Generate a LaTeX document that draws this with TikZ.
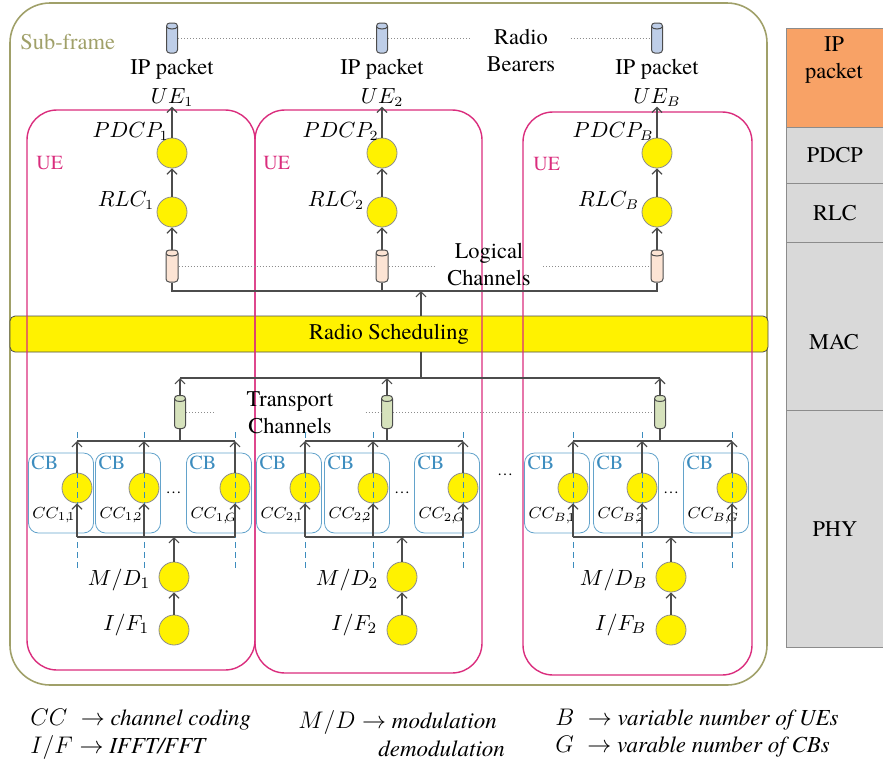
\documentclass[tikz,border=0pt]{standalone}
\usepackage{fontspec}
\setmainfont{texgyretermes}[Extension=.otf, UprightFont=*-regular, ItalicFont=*-italic,
    BoldFont=*-bold, BoldItalicFont=*-bolditalic]
\usepackage{tikz}
\usetikzlibrary{positioning, arrows.meta, calc, shapes.geometric}

\definecolor{frameol}{RGB}{160,160,105}
\definecolor{uepink}{RGB}{218,45,125}
\definecolor{cbblue}{RGB}{60,140,190}
\definecolor{bearfill}{RGB}{190,206,232}
\definecolor{logfill}{RGB}{252,228,212}
\definecolor{trfill}{RGB}{214,226,188}
\definecolor{ipfill}{RGB}{248,162,102}
\definecolor{layfill}{RGB}{217,217,217}

\begin{document}
\begin{tikzpicture}[
    x=0.5pt, y=-0.5pt,
    txt/.style={font=\fontsize{11.2}{13.5}\selectfont, align=center, inner sep=0pt},
    mlab/.style={font=\fontsize{10.5}{12}\selectfont, inner sep=0pt},
    small/.style={font=\fontsize{8}{10}\selectfont, inner sep=0pt},
    proc/.style={circle, draw=black!45, fill=yellow, minimum size=15pt, inner sep=0pt},
    chan/.style={rectangle, rounded corners=1.6pt, draw=black!70, line width=0.5pt,
                 minimum width=5.5pt, inner sep=0pt,
                 path picture={\draw[black!70, line width=0.5pt]
                   ([yshift=-1.8pt]path picture bounding box.north west) .. controls +(0.3pt,-1.6pt)
                   and +(-0.3pt,-1.6pt) .. ([yshift=-1.8pt]path picture bounding box.north east);}},
    bearer/.style={chan, fill=bearfill, minimum height=15pt},
    logch/.style={chan, fill=logfill, minimum width=6pt, minimum height=16pt},
    trch/.style={chan, fill=trfill, minimum height=16.5pt},
    cbbox/.style={draw=cbblue!80, rounded corners=5pt, minimum width=32.5pt, minimum height=40pt, inner sep=0pt},
    uebox/.style={draw=uepink, line width=0.7pt, rounded corners=15pt},
    lay/.style={draw=black!45, fill=layfill, minimum width=48.5pt, anchor=north west, inner sep=0pt,
                font=\fontsize{11.2}{13.5}\selectfont},
    legend/.style={font=\fontsize{11.5}{13}\selectfont, anchor=west, inner sep=0pt},
    arr/.style={-{Straight Barb[length=2.5pt, width=5pt]}, draw=black!70, line width=0.6pt},
    bus/.style={draw=black!70, line width=0.6pt},
    dotln/.style={densely dotted, draw=black!45, line width=0.5pt},
    cbdash/.style={dashed, draw=cbblue, line width=0.5pt, dash pattern=on 3pt off 2pt},
]
\useasboundingbox (0,0) rectangle (883,766);

% sub-frame and scheduling bar
\draw[frameol, line width=0.8pt, rounded corners=20pt] (10,3) rectangle (767,685);
\node[txt, anchor=west, text=frameol] (subf) at (20,42) {Sub-frame};
\node[draw=black!70, fill=yellow, rounded corners=2.5pt, minimum width=379pt, minimum height=18pt,
      font=\fontsize{11.2}{13.5}\selectfont] (sched) at (389,334) {Radio Scheduling};

% UE boxes
\draw[uebox] (27,110) rectangle (255,670);
\draw[uebox] (255,110) rectangle (482,673);
\draw[uebox] (523,112) rectangle (752,675);
\node[txt, text=uepink, font=\fontsize{10}{12}\selectfont, anchor=west] (uel1) at (36,163) {UE};
\node[txt, text=uepink, font=\fontsize{10}{12}\selectfont, anchor=west] (uel2) at (263,163) {UE};
\node[txt, text=uepink, font=\fontsize{10}{12}\selectfont, anchor=west] (uelB) at (533,164) {UE};

% upper stack per UE
\foreach \ui/\xc in {1/172, 2/382, B/657} {
    \node[bearer] (rb\ui) at (\xc,38) {};
    \node[txt, anchor=base] (ip\ui) at (\xc,74) {IP packet};
    \node[mlab, anchor=base] (ue\ui) at (\xc,103) {$UE_{\ui}$};
    \node[proc] (pdcp\ui) at (\xc,153) {};
    \node[proc] (rlc\ui) at (\xc,212) {};
    \node[logch] (lc\ui) at (\xc,266) {};
    \node[mlab, anchor=base east] (pdcpl\ui) at ($(pdcp\ui.north)+(-3,0)$) {$PDCP_{\ui}$};
    \node[mlab, anchor=base east] (rlcl\ui) at ($(rlc\ui.west)+(-2,-6)$) {$RLC_{\ui}$};
    \draw[arr] (pdcp\ui) -- (ue\ui);
    \draw[arr] (rlc\ui) -- (pdcp\ui);
    \draw[arr] (lc\ui) -- (rlc\ui);
}

\node[txt, inner xsep=7.5pt] (rbtxt) at (521,50) {Radio\\Bearers};
\node[txt, inner xsep=6pt] (lctxt) at (489,265) {Logical\\Channels};
\draw[dotln] (rb1) -- (rb2);
\draw[dotln] (rb2) -- (rbtxt.west |- rb2);
\draw[dotln] (rbtxt.east |- rbB) -- (rbB);
\draw[dotln] (lc1) -- (lc2);
\draw[dotln] (lc2) -- (lctxt.west |- lc2);
\draw[dotln] (lctxt.east |- lcB) -- (lcB);

% logical channels into the scheduler
\coordinate (lj) at (421,291);
\draw[bus] (lc1) |- (lj) -| (lcB);
\draw[bus] (lc2) -- (lc2 |- lj);
\draw[arr] (sched.north -| lj) -- (lj);

% transport channels
\coordinate (tj) at (421,378);
\node[trch] (tc1) at (180,412) {};
\node[trch] (tc2) at (387,412) {};
\node[trch] (tcB) at (660,412) {};
\node[txt, inner xsep=16pt] (tctxt) at (290,413) {Transport\\Channels};
\draw[dotln] (tc1) -- (tctxt.west |- tc1);
\draw[dotln] (tctxt.east |- tc2) -- (tc2);
\draw[dotln] (tc2) -- (tcB);
\draw[bus] (sched.south -| tj) -- (tj);
\draw[bus] (tc1 |- tj) -- (tcB |- tj);
\draw[arr] (tc1) -- (tc1 |- tj);
\draw[arr] (tc2) -- (tc2 |- tj);
\draw[arr] (tcB) -- (tcB |- tj);

% code blocks, modulation and IFFT per UE
\coordinate (tb) at (0,441);
\coordinate (bb) at (0,537);
\coordinate (dt) at (0,432);
\coordinate (db) at (0,570);
\foreach \ui/\xa/\xb/\xg/\xm in {1/77/144/235/174, 2/305/373/463/402, B/573/642/732/671} {
    \foreach \k/\cx in {1/\xa, 2/\xb, G/\xg} {
        \node[cbbox] (cb\ui\k) at (\cx-16,493) {};
        \node[anchor=north west, inner sep=1.5pt, text=cbblue, font=\fontsize{10}{12}\selectfont]
            (cbl\ui\k) at (cb\ui\k.north west) {CB};
        \node[proc] (cc\ui\k) at (\cx,488) {};
        \node[small, anchor=base west] (ccl\ui\k) at ($(cb\ui\k.south west)+(4,-15)$) {$CC_{\ui,\!\k}$};
        \draw[cbdash] (cc\ui\k |- dt) -- (cc\ui\k |- db);
        \draw[arr] (cc\ui\k) -- (cc\ui\k |- tb);
        \draw[arr] (cc\ui\k |- bb) -- (cc\ui\k);
    }
    \node[small] (cbdots\ui) at ($(cb\ui2.east)!0.5!(cb\ui G.west)$) {\dots};
    \draw[bus] (cc\ui1 |- tb) -- (cc\ui G |- tb);
    \draw[bus] (cc\ui1 |- bb) -- (cc\ui G |- bb);
    \draw[bus] (tc\ui) -- (tc\ui |- tb);
    \node[proc] (md\ui) at (\xm,577) {};
    \node[proc] (if\ui) at (\xm,630) {};
    \node[mlab, font=\fontsize{11}{12}\selectfont, anchor=east] (mdl\ui) at ($(md\ui.west)+(-8,3)$) {$M/D_{\ui}$};
    \node[mlab, font=\fontsize{11}{12}\selectfont, anchor=east] (ifl\ui) at ($(if\ui.west)+(-9,-5)$) {$I/F_{\ui}$};
    \draw[arr] (md\ui) -- (md\ui |- bb);
    \draw[arr] (if\ui) -- (md\ui);
}
\node[small] (uedots) at (505,475) {\dots};

% protocol layers
\node[lay, fill=ipfill, minimum height=49.5pt] (lyip) at (786,28) {};
\node[txt] (lyipt) at (834,60) {IP\\packet};
\node[lay, minimum height=28pt] (lypdcp) at (786,127) {PDCP};
\node[lay, minimum height=29.5pt] (lyrlc) at (786,183) {RLC};
\node[lay, minimum height=84pt] (lymac) at (786,242) {};
\node[txt] (lymact) at (834,342) {MAC};
\node[lay, minimum height=118.5pt] (lyphy) at (786,410) {PHY};

% legend
\node[legend] (lgcc) at (30,720) {$CC\;\rightarrow$ \textit{channel coding}};
\node[legend] (lgif) at (30,747) {$I/F \rightarrow$ \textit{IFFT/FFT}};
\node[legend] (lgmd) at (298,722) {$M/D \rightarrow$ \textit{modulation}};
\node[legend] (lgdm) at (378,749) {\textit{demodulation}};
\node[legend] (lgb) at (555,720) {$B\;\rightarrow$ \textit{variable number of UEs}};
\node[legend] (lgg) at (555,747) {$G\;\rightarrow$ \textit{varable number of CBs}};

\end{tikzpicture}
\end{document}
